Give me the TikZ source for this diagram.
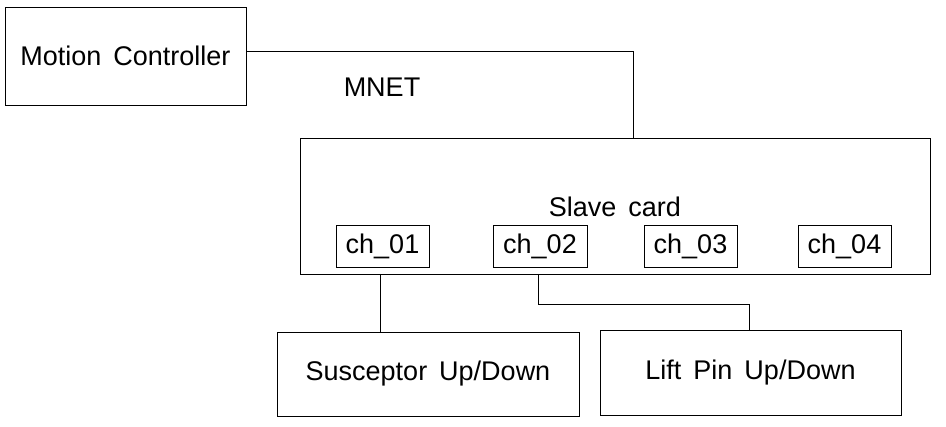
\documentclass[tikz,border=0pt]{standalone}
\usepackage{fontspec}
\setmainfont[WordSpace={1.6}]{Liberation Sans}
\begin{document}
\begin{tikzpicture}[x=1pt,y=-1pt,
  box/.style={draw, line width=0.9pt, inner sep=0pt},
  lbl/.style={font=\fontsize{27}{30}\selectfont, inner sep=0pt},
  wire/.style={line width=0.9pt}]
\useasboundingbox (0,0) rectangle (946,427);
% boxes
\node[box, minimum width=241pt, minimum height=98pt] (mc) at (125.5,56) {};
\node[lbl] at (mc.center) {Motion Controller};
\node[box, minimum width=630pt, minimum height=136pt] (sc) at (615,206.5) {};
\node[lbl] (sctext) at (615,207) {Slave card};
\node[box, minimum width=93pt, minimum height=42pt] (c1) at (382.5,246) {};
\node[lbl] at (c1.center) {ch\_01};
\node[box, minimum width=94pt, minimum height=42pt] (c2) at (540,246) {};
\node[lbl] at (c2.center) {ch\_02};
\node[box, minimum width=93pt, minimum height=42pt] (c3) at (690.5,246) {};
\node[lbl] at (c3.center) {ch\_03};
\node[box, minimum width=93pt, minimum height=42pt] (c4) at (844.5,246) {};
\node[lbl] at (c4.center) {ch\_04};
\node[box, minimum width=302pt, minimum height=84pt] (su) at (428,374) {};
\node[lbl] at (su.center) {Susceptor Up/Down};
\node[box, minimum width=301pt, minimum height=85pt] (lp) at (750.5,372.5) {};
\node[lbl] at (lp.center) {Lift Pin Up/Down};
\node[lbl] (mnet) at (382,87) {MNET};
% wires
\coordinate (m1) at (246,51);
\coordinate (m2) at (633,51);
\coordinate (m3) at (633,138.5);
\coordinate (s1) at (380,274);
\coordinate (s1b) at (380,332);
\coordinate (s2) at (538,274);
\coordinate (s2a) at (538,304);
\coordinate (s2b) at (749,304);
\coordinate (s2c) at (749,330);
\draw[wire] (m1) -- (m2) -- (m3);
\draw[wire] (s1) -- (s1b);
\draw[wire] (s2) -- (s2a) -- (s2b) -- (s2c);
\end{tikzpicture}
\end{document}
